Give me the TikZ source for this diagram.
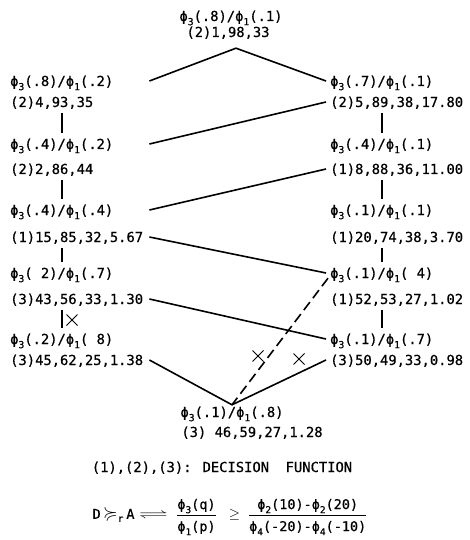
\documentclass[tikz,border=0pt]{standalone}
\usepackage{amsmath,amssymb}
\usepackage{fontspec}
\setmainfont{DejaVu Sans Mono}[FakeBold=0.6]
\usetikzlibrary{shapes.misc}
\newcommand\ph[1]{ϕ\raisebox{-0.3em}{\scalebox{0.7}{#1}}}
\newcommand\nd{\hphantom{.}}
\begin{document}
\begin{tikzpicture}[x=1pt,y=-1pt,
  every node/.style={font=\fontsize{13.8}{16}\selectfont},
  lab/.style={inner xsep=0pt, inner ysep=6pt, text height=10pt, text depth=0pt},
  lft/.style={lab, anchor=west, text width=139pt, align=left},
  rgt/.style={lab, anchor=west, inner xsep=4pt},
  conn/.style={line width=1.6pt},
  vlink/.style={line width=2pt},
  xmark/.style={cross out, draw, line width=1pt, minimum size=10pt, inner sep=0pt}]
\useasboundingbox (0,0) rectangle (469,540);
% top
\node[lab] (Ta) at (231,16) {\ph{3}(.8)/\ph{1}(.1)};
\node[lab] (Tb) at (228,32) {(2)1,98,33};
% left column
\node[lft] (L1a) at (10,81) {\ph{3}(.8)/\ph{1}(.2)};
\node[lft] (L1b) at (10,102) {(2)4,93,35};
\node[lft] (L2a) at (10,144) {\ph{3}(.4)/\ph{1}(.2)};
\node[lft] (L2b) at (10,169) {(2)2,86,44};
\node[lft] (L3a) at (10,210) {\ph{3}(.4)/\ph{1}(.4)};
\node[lft] (L3b) at (10,237) {(1)15,85,32,5.67};
\node[lft] (L4a) at (10,273) {\ph{3}(\nd2)/\ph{1}(.7)};
\node[lft] (L4b) at (10,299) {(3)43,56,33,1.30};
\node[lft] (L5a) at (10,339) {\ph{3}(.2)/\ph{1}(\nd8)};
\node[lft] (L5b) at (10,360) {(3)45,62,25,1.38};
% right column
\node[rgt] (R1a) at (326,81) {\ph{3}(.7)/\ph{1}(.1)};
\node[rgt] (R1b) at (326,102) {(2)5,89,38,17.80};
\node[rgt] (R2a) at (326,144) {\ph{3}(.4)/\ph{1}(.1)};
\node[rgt] (R2b) at (326,169) {(1)8,88,36,11.00};
\node[rgt] (R3a) at (326,210) {\ph{3}(.1)/\ph{1}(.1)};
\node[rgt] (R3b) at (326,237) {(1)20,74,38,3.70};
\node[rgt] (R4a) at (326,273) {\ph{3}(.1)/\ph{1}(\nd4)};
\node[rgt] (R4b) at (326,299) {(1)52,53,27,1.02};
\node[rgt] (R5a) at (326,339) {\ph{3}(.1)/\ph{1}(.7)};
\node[rgt] (R5b) at (326,360) {(3)50,49,33,0.98};
% bottom
\node[lab] (Ba) at (232,412) {\ph{3}(.1)/\ph{1}(.8)};
\node[lab] (Bb) at (252,432) {(3) 46,59,27,1.28};
\node[lab] (C) at (222,467) {(1),(2),(3): DECISION\ \ FUNCTION};
\node[font=\fontsize{13.5}{15}\selectfont] (F) at (230,517) {$\text{D}\,\scalebox{1.4}{$\succcurlyeq$}_{\text{r}}\,\text{A}\;\scalebox{2.2}[1.1]{$\rightleftharpoons$}\;\;\dfrac{\text{\ph{3}(q)}\rule[-4pt]{0pt}{4pt}}{\rule{0pt}{14pt}\text{\ph{1}(p)}}\;\;\geq\;\dfrac{\text{\ph{2}(10)-\ph{2}(20)}\rule[-4pt]{0pt}{4pt}}{\rule{0pt}{14pt}\text{\ph{4}(-20)-\ph{4}(-10)}}$};
% vertical links
\foreach \a/\b in {L1b/L2a,L2b/L3a,L3b/L4a,L4b/L5a}
  \draw[vlink] ([xshift=52pt]\a.south west) -- ([xshift=52pt]\b.north west);
\foreach \a/\b in {R1b/R2a,R2b/R3a,R3b/R4a,R4b/R5a}
  \draw[vlink] ([xshift=56pt]\a.south west) -- ([xshift=56pt]\b.north west);
% cross links
\draw[conn] (L1a.east) -- ([xshift=8pt,yshift=-5pt]Tb.south) -- (R1a.west);
\draw[conn] (R1b.west) -- (L2a.east);
\draw[conn] (R2b.west) -- (L3a.east);
\draw[conn] (L3b.east) -- (R4a.west);
\draw[conn] (L4b.east) -- (R5a.west);
\draw[conn] (L5b.east) -- ([yshift=-4pt]Ba.north) -- (R5b.west);
\draw[conn, dash pattern=on 10pt off 5pt] ([xshift=2pt,yshift=6pt]R4a.south west) -- ([yshift=-4pt]Ba.north);
% crosses
\node[xmark] (x1) at (72,320) {};
\node[xmark] (x2) at (258,356) {};
\node[xmark] (x3) at (299,359) {};
\end{tikzpicture}
\end{document}
